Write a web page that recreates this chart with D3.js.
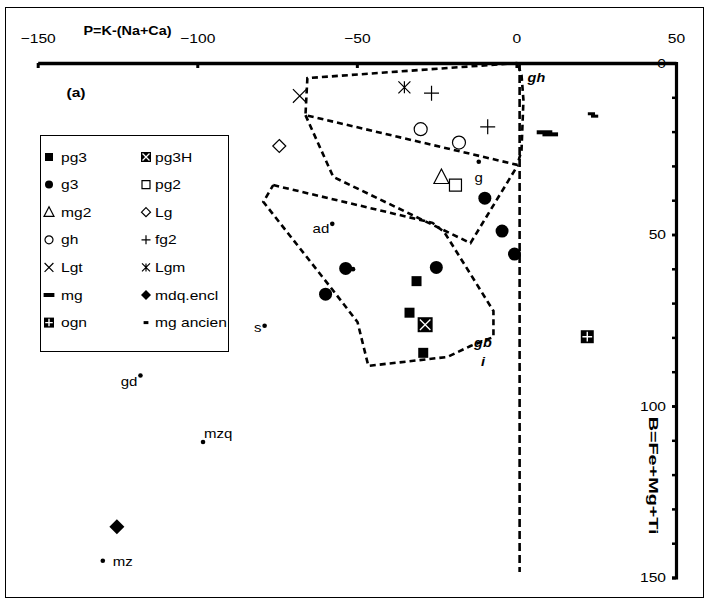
<!DOCTYPE html>
<html>
<head>
<meta charset="utf-8">
<script src="https://cdn.jsdelivr.net/npm/d3@7/dist/d3.min.js"></script>
<style>
  html, body { margin: 0; padding: 0; background: #fff; }
  svg { display: block; font-family: "Liberation Sans", Arial, sans-serif; }
</style>
</head>
<body>
<svg id="chart" width="709" height="603"></svg>
<script>
// P = K-(Na+Ca) on the horizontal axis, B = Fe+Mg+Ti on the vertical axis (downwards)
const xTicks = [-150, -100, -50, 0, 50];
const yMajorTicks = [0, 50, 100, 150];
const yMinorTicks = d3.range(0, 151, 10);

// Sample groups: [P, B]
const pg3 = [[-31.3, 63.6], [-33.5, 72.8], [-29.2, 84.5]];
const pg3H = [[-28.6, 76.3]];
const g3 = [[-9.9, 39.4], [-4.5, 49.0], [-0.6, 55.7], [-25.1, 59.6], [-53.5, 59.9], [-59.8, 67.4]];
const pg2 = [[-19.1, 35.6]];
const mg2 = [[-23.5, 33.3]];
const Lg = [[-74.3, 24.2]];
const gh = [[-30.0, 19.3], [-18.0, 23.2]];
const fg2 = [[-26.6, 8.8], [-9.0, 18.6]];
const Lgt = [[-67.9, 9.6]];
const Lgm = [[-35.1, 7.1]];
const mg = [[8.8, 20.2], [10.6, 20.8]];
const mdqEncl = [[-125.2, 135.2]];
const ogn = [[22.2, 79.8]];
const mgAncien = [[23.5, 14.8], [24.5, 15.5]];

// Reference rock averages shown as small dots with their names
const refNames = ["g", "ad", "s", "gd", "mzq", "mz", ""];
const refPoints = [[-11.8, 28.8], [-57.7, 46.9], [-78.9, 76.6], [-117.8, 91.1], [-98.2, 110.5], [-129.6, 145.1], [-51.2, 60.1]];

// Field boundaries
const fieldUpper = [[0.3, 0], [-65.5, 4.4], [-66.1, 15.2], [0.3, 29.7], [1.6, 25.4], [2.2, 10.8], [1.6, 3.5], [0.3, 0]];
const fieldMiddle = [[-66.1, 15.2], [-57.4, 33.2], [-14.4, 52.5], [0.3, 30.0]];
const fieldLower = [[-76.2, 35.6], [-26.3, 46.6], [-22.6, 49.3], [-7.2, 72.3], [-7.2, 79.9], [-14.4, 82.5], [-21.6, 85.7], [-46.4, 88.3], [-49.8, 75.5], [-58.3, 65.3], [-79.3, 40.5], [-76.2, 35.6]];
const dividerP = [1, 1];
const dividerB = [0, 148.4];

const SX = 1.2; // horizontal widening of the lettering

const svg = d3.select("#chart");
const x = d3.scaleLinear().domain([-150, 50]).range([37.7, 676]);
const y = d3.scaleLinear().domain([0, 150]).range([63, 577.5]);

// chart frame
svg.append("rect").attr("x", 5.5).attr("y", 7.5).attr("width", 698).attr("height", 590)
  .attr("fill", "none").attr("stroke", "#000").attr("stroke-width", 1);

function addText(parent, px, py, str, size, anchor, weight, style) {
  return parent.append("text")
    .attr("transform", `translate(${px},${py}) scale(${SX},1)`)
    .attr("text-anchor", anchor || "start")
    .attr("font-size", size)
    .attr("font-weight", weight || "normal")
    .attr("font-style", style || "normal")
    .text(str);
}

// marker shapes (centred at 0,0)
const shapes = {
  square: s => `M${-s/2},${-s/2}h${s}v${s}h${-s}Z`,
  diamond: s => `M0,${-s/2}L${s/2},0L0,${s/2}L${-s/2},0Z`,
  triangle: s => `M0,${-s*0.55}L${s/2},${s*0.42}L${-s/2},${s*0.42}Z`,
  plus: s => `M${-s/2},0H${s/2}M0,${-s/2}V${s/2}`,
  cross: s => `M${-s/2},${-s/2}L${s/2},${s/2}M${s/2},${-s/2}L${-s/2},${s/2}`,
  star: s => `M${-s/2},${-s/2}L${s/2},${s/2}M${s/2},${-s/2}L${-s/2},${s/2}M0,${-s/2}V${s/2}`
};

function drawMarker(g, type, s) {
  switch (type) {
    case "pg3":
      g.append("path").attr("d", shapes.square(s)).attr("fill", "#000");
      break;
    case "pg3H":
      g.append("path").attr("d", shapes.square(s)).attr("fill", "#000");
      g.append("path").attr("d", shapes.cross(s * 0.7)).attr("stroke", "#fff").attr("stroke-width", 1.3).attr("fill", "none");
      break;
    case "g3":
      g.append("circle").attr("r", s / 2).attr("fill", "#000");
      break;
    case "pg2":
      g.append("path").attr("d", shapes.square(s)).attr("fill", "#fff").attr("stroke", "#000").attr("stroke-width", 1.2);
      break;
    case "mg2":
      g.append("path").attr("d", shapes.triangle(s)).attr("fill", "#fff").attr("stroke", "#000").attr("stroke-width", 1.2);
      break;
    case "Lg":
      g.append("path").attr("d", shapes.diamond(s)).attr("fill", "#fff").attr("stroke", "#000").attr("stroke-width", 1.2);
      break;
    case "gh":
      g.append("circle").attr("r", s / 2).attr("fill", "#fff").attr("stroke", "#000").attr("stroke-width", 1.2);
      break;
    case "fg2":
      g.append("path").attr("d", shapes.plus(s)).attr("stroke", "#000").attr("stroke-width", 1.2).attr("fill", "none");
      break;
    case "Lgt":
      g.append("path").attr("d", shapes.cross(s * 0.8)).attr("stroke", "#000").attr("stroke-width", 1.2).attr("fill", "none");
      break;
    case "Lgm":
      g.append("path").attr("d", shapes.star(s * 0.8)).attr("stroke", "#000").attr("stroke-width", 1.2).attr("fill", "none");
      break;
    case "mg":
      g.append("rect").attr("x", -s * 0.6).attr("y", -2).attr("width", s * 1.2).attr("height", 4).attr("fill", "#000");
      break;
    case "mdqEncl":
      g.append("path").attr("d", shapes.diamond(s)).attr("fill", "#000");
      break;
    case "ogn":
      g.append("path").attr("d", shapes.square(s)).attr("fill", "#000");
      g.append("path").attr("d", shapes.plus(s * 0.75)).attr("stroke", "#fff").attr("stroke-width", 1.4).attr("fill", "none");
      break;
    case "mgAncien":
      g.append("rect").attr("x", -s * 0.4).attr("y", -1.5).attr("width", s * 0.8).attr("height", 3).attr("fill", "#000");
      break;
  }
}

// dashed field boundaries
const line = d3.line().x(d => x(d[0])).y(d => y(d[1]));
const fields = svg.append("g").attr("fill", "none").attr("stroke", "#000")
  .attr("stroke-width", 2.6).attr("stroke-dasharray", "6,4");
[fieldUpper, fieldMiddle, fieldLower].forEach(f => fields.append("path").attr("d", line(f)));
fields.append("path")
  .attr("d", line(dividerB.map((b, i) => [dividerP[i], b])))
  .attr("stroke-dasharray", "8,4");

// axes
const topAxis = d3.axisTop(x).tickValues(xTicks).tickSizeInner(-5).tickSizeOuter(0).tickPadding(20);
const gTop = svg.append("g").attr("transform", `translate(0,${y(0)})`).call(topAxis);
gTop.select(".domain").attr("stroke-width", 3.5);
gTop.selectAll(".tick line").attr("stroke-width", 3);
gTop.selectAll(".tick text").attr("font-size", 13).attr("font-family", "Liberation Sans, Arial, sans-serif")
  .attr("transform", `scale(${SX},1)`);

const rightMinor = d3.axisLeft(y).tickValues(yMinorTicks).tickSize(4).tickFormat("");
const gRm = svg.append("g").attr("transform", `translate(${x(50)},0)`).call(rightMinor);
gRm.select(".domain").attr("stroke-width", 3.2);
gRm.selectAll(".tick line").attr("stroke-width", 2.5);

const rightMajor = d3.axisLeft(y).tickValues(yMajorTicks).tickSize(4).tickPadding(6);
const gR = svg.append("g").attr("transform", `translate(${x(50)},0)`).call(rightMajor);
gR.select(".domain").remove();
gR.selectAll(".tick line").attr("stroke-width", 2.5);
gR.selectAll(".tick text").attr("font-size", 13).attr("font-family", "Liberation Sans, Arial, sans-serif")
  .attr("x", -10 / SX).attr("transform", `scale(${SX},1)`);

// axis titles
addText(svg, 127.5, 35, "P=K-(Na+Ca)", 12, "middle", "bold");
svg.append("text")
  .attr("transform", `translate(${x(50) - 27.5},${y(120.3)}) rotate(90)`)
  .attr("text-anchor", "middle").attr("font-size", 13).attr("font-weight", "bold")
  .attr("textLength", 118).attr("lengthAdjust", "spacingAndGlyphs")
  .text("B=Fe+Mg+Ti");

// panel tag and field names
addText(svg, 76, 97, "(a)", 13, "middle", "bold");
addText(svg, x(3.5), y(5.4), "gh", 12, "start", "bold", "italic");
addText(svg, x(-10.5), y(82.7), "gb", 12, "middle", "bold", "italic");
addText(svg, x(-10.5), y(88.3), "i", 12, "middle", "bold", "italic");

// reference dots and names
const refLabelPos = { g: [0, 20, "middle"], ad: [-3, 9, "end"], s: [-3, 6, "end"], gd: [-3, 11, "end"], mzq: [1, -4, "start"], mz: [10, 5, "start"] };
refPoints.forEach((p, i) => {
  svg.append("circle").attr("cx", x(p[0])).attr("cy", y(p[1])).attr("r", 2.3).attr("fill", "#000");
  const name = refNames[i];
  if (name) {
    const o = refLabelPos[name];
    addText(svg, x(p[0]) + o[0], y(p[1]) + o[1], name, 12.5, o[2]);
  }
});

// sample markers
const series = [
  ["pg3", pg3, 10], ["pg3H", pg3H, 15], ["g3", g3, 13], ["pg2", pg2, 12], ["mg2", mg2, 15],
  ["Lg", Lg, 13], ["gh", gh, 13], ["fg2", fg2, 15], ["Lgt", Lgt, 17], ["Lgm", Lgm, 15],
  ["mg", mg, 13], ["mdqEncl", mdqEncl, 15], ["ogn", ogn, 13], ["mgAncien", mgAncien, 9]
];
series.forEach(([type, data, s]) => {
  data.forEach(d => {
    const g = svg.append("g").attr("transform", `translate(${x(d[0])},${y(d[1])})`);
    drawMarker(g, type, s);
  });
});

// legend
const legendItems = [
  ["pg3", "pg3"], ["pg3H", "pg3H"], ["g3", "g3"], ["pg2", "pg2"], ["mg2", "mg2"], ["Lg", "Lg"],
  ["gh", "gh"], ["fg2", "fg2"], ["Lgt", "Lgt"], ["Lgm", "Lgm"], ["mg", "mg"], ["mdqEncl", "mdq.encl"],
  ["ogn", "ogn"], ["mgAncien", "mg ancien"]
];
const legendSize = { pg3: 8, pg3H: 10, g3: 8, pg2: 8, mg2: 10, Lg: 9, gh: 8, fg2: 9, Lgt: 11, Lgm: 10, mg: 9, mdqEncl: 10, ogn: 10, mgAncien: 6 };
const legend = svg.append("g");
legend.append("rect").attr("x", 40.5).attr("y", 135.5).attr("width", 188).attr("height", 216)
  .attr("fill", "#fff").attr("stroke", "#000").attr("stroke-width", 1);
legendItems.forEach(([type, label], i) => {
  const col = i % 2, row = Math.floor(i / 2);
  const cx = col === 0 ? 49 : 146;
  const cy = 157 + row * 27.6;
  const g = legend.append("g").attr("transform", `translate(${cx},${cy})`);
  drawMarker(g, type, legendSize[type]);
  addText(legend, cx + (col === 0 ? 12 : 9), cy + 4.5, label, 13, "start");
});
</script>
</body>
</html>
